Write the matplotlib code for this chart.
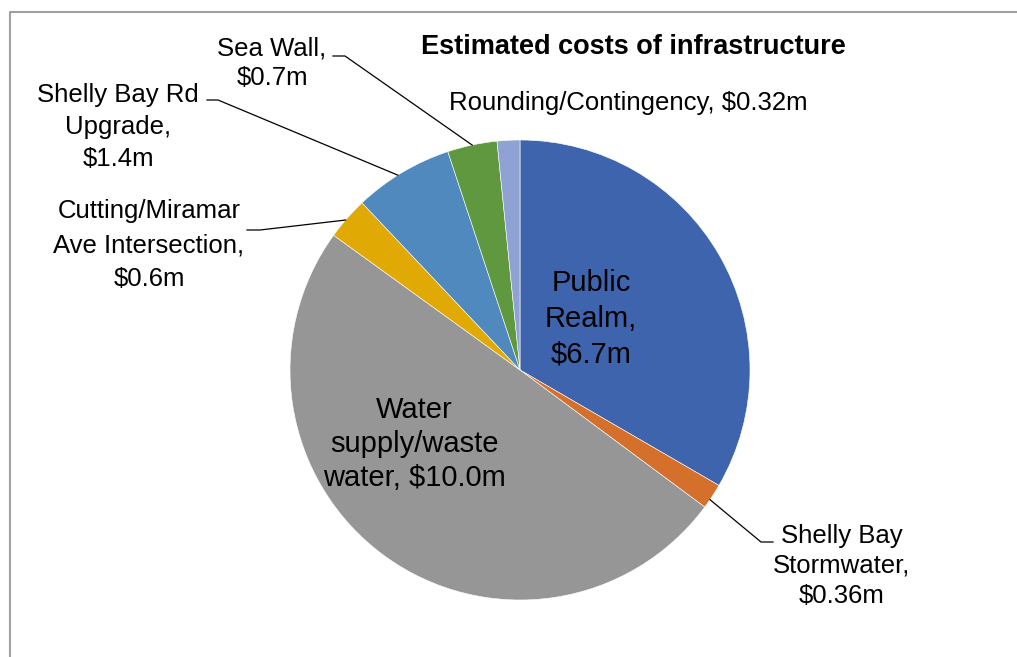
import matplotlib.pyplot as plt
import numpy as np

plt.rcParams['font.family'] = ['Liberation Sans', 'DejaVu Sans']

# data
labels = ['Public Realm', 'Shelly Bay Stormwater', 'Water supply/waste water',
          'Cutting/Miramar Ave Intersection', 'Shelly Bay Rd Upgrade',
          'Sea Wall', 'Rounding/Contingency']
costs = [6.7, 0.36, 10.0, 0.6, 1.4, 0.7, 0.32]
cost_text = ['$6.7m', '$0.36m', '$10.0m', '$0.6m', '$1.4m', '$0.7m', '$0.32m']
colors = ['#3D64AD', '#D5702C', '#969696', '#E1A904', '#4F89BD',
          '#5F983F', '#8EA2D4']

W, H = 1017, 657
fig = plt.figure(figsize=(W / 100, H / 100), dpi=100)
ax = fig.add_axes([0, 0, 1, 1])

cx, cy, r = 520, H - 370, 230
wedges, _ = ax.pie(costs, colors=colors, startangle=90, counterclock=False,
                   center=(cx, cy), radius=r,
                   wedgeprops=dict(linewidth=0.4, edgecolor='white'))
ax.set_aspect('auto')
ax.set_xlim(0, W)
ax.set_ylim(0, H)
ax.axis('off')

# chart border
ax.plot([10, 10, W + 5], [-5, H - 12, H - 12], color='#a0a0a0', lw=1.5,
        clip_on=False)

ax.text(633, H - 47, 'Estimated costs of infrastructure', fontsize=19.5,
        fontweight='bold', ha='center', va='center')

fs = 18.5


def edge_point(w, frac=0.5):
    # point on the outer arc of a wedge
    a = np.deg2rad(w.theta1 + (w.theta2 - w.theta1) * frac)
    return cx + r * np.cos(a), cy + r * np.sin(a)


# inside labels
ax.text(591, H - 319, labels[0].replace(' ', '\n') + ',\n' + cost_text[0],
        fontsize=21, ha='center', va='center', linespacing=1.35)
ax.text(414, H - 444, 'Water\nsupply/waste\nwater, ' + cost_text[2],
        fontsize=21, ha='center', va='center', linespacing=1.28)

# outside labels with leader lines
ax.text(842, H - 566, 'Shelly Bay\nStormwater,\n' + cost_text[1],
        fontsize=fs, ha='center', va='center', linespacing=1.3)
px, py = edge_point(wedges[1], 0.35)
ax.plot([px, 761, 773], [py, H - 542, H - 542], color='black', lw=0.9)

ax.text(149, H - 245, 'Cutting/Miramar\nAve Intersection,\n' + cost_text[3],
        fontsize=fs, ha='center', va='center', linespacing=1.55)
px, py = edge_point(wedges[3], 0.55)
ax.plot([247, 260, px], [H - 230, H - 230, py], color='black', lw=0.9)

ax.text(118, H - 127, 'Shelly Bay Rd\nUpgrade,\n' + cost_text[4],
        fontsize=fs, ha='center', va='center', linespacing=1.4)
px, py = edge_point(wedges[4], 0.55)
ax.plot([207, 218, px], [H - 100, H - 100, py], color='black', lw=0.9)

ax.text(272, H - 63, 'Sea Wall,\n' + cost_text[5],
        fontsize=fs, ha='center', va='center', linespacing=1.3)
px, py = edge_point(wedges[5], 0.5)
ax.plot([333, 345, px], [H - 56, H - 56, py], color='black', lw=0.9)

ax.text(628, H - 103, labels[6] + ', ' + cost_text[6],
        fontsize=fs, ha='center', va='center')

fig.savefig('out.png', dpi=100)
